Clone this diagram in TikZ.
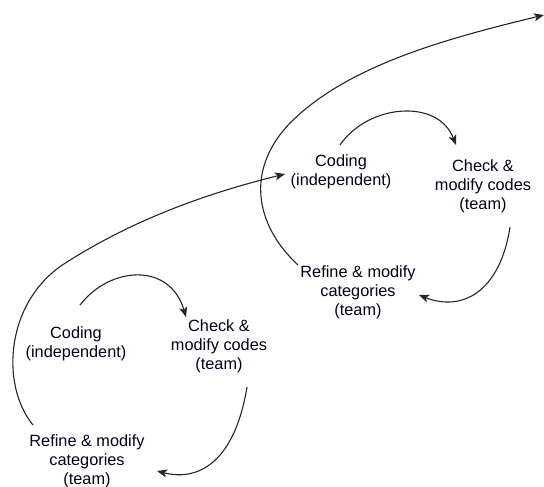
\documentclass[tikz,border=0pt]{standalone}
\usepackage{fontspec}
\setmainfont{Liberation Sans}
\usetikzlibrary{arrows.meta}
\begin{document}
\begin{tikzpicture}[x=1pt,y=-1pt,
  lbl/.style={align=center,inner sep=0pt,font=\fontsize{16.3}{19}\selectfont,text=black!90!blue},
  flow/.style={line width=1.1pt,draw=black!85,-{Stealth[length=10pt,width=8pt,inset=2.5pt]}}]
\useasboundingbox (0,0) rectangle (544,487);
% lower cycle
\node[lbl] (c1) at (76,344) {Coding\\(independent)};
\node[lbl] (k1) at (219,346) {Check \&\\modify codes\\(team)};
\node[lbl] (r1) at (87,461) {Refine \& modify\\categories\\(team)};
% upper cycle
\node[lbl] (c2) at (341,172) {Coding\\(independent)};
\node[lbl] (k2) at (483,186) {Check \&\\modify codes\\(team)};
\node[lbl] (r2) at (358,292) {Refine \& modify\\categories\\(team)};
% arrow endpoints
\coordinate (c1out) at (80,305);
\coordinate (k1in) at (186,317);
\coordinate (k1out) at (247,387);
\coordinate (r1in) at (157,471);
\coordinate (r1out) at (33,425);
\coordinate (c2in) at (285,174);
\coordinate (c2out) at (340,145);
\coordinate (k2in) at (456,145);
\coordinate (k2out) at (510,227);
\coordinate (r2in) at (419,295);
\coordinate (r2out) at (298,265);
\coordinate (exit) at (544,15);
% lower cycle arrows
\draw[flow] (c1out) .. controls (110,266) and (170,262) .. (k1in);
\draw[flow] (k1out) .. controls (235,460) and (200,482) .. (r1in);
\draw[flow] (r1out) .. controls (0,385) and (5,300) .. (67,262) .. controls (130,222) and (200,195) .. (c2in);
% upper cycle arrows
\draw[flow] (c2out) .. controls (368,104) and (438,98) .. (k2in);
\draw[flow] (k2out) .. controls (500,292) and (462,312) .. (r2in);
\draw[flow] (r2out) .. controls (255,225) and (245,170) .. (290,123) .. controls (346,67) and (440,40) .. (exit);
\end{tikzpicture}
\end{document}
